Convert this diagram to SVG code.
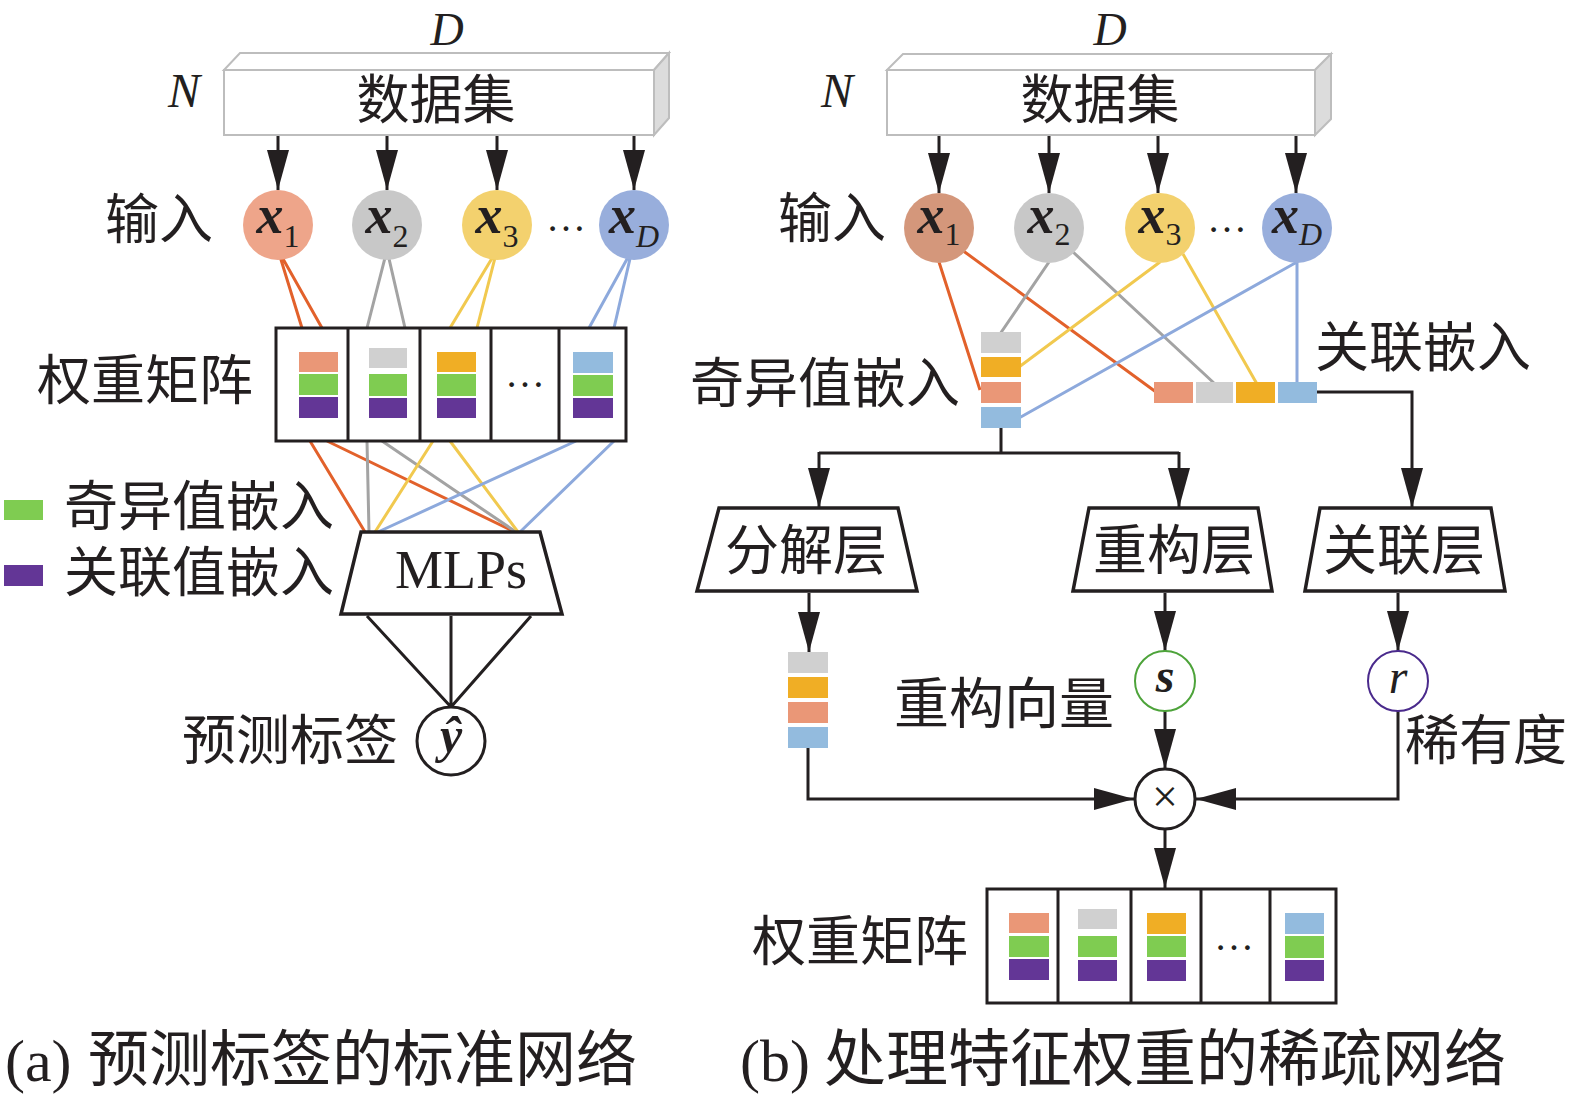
<svg xmlns="http://www.w3.org/2000/svg" width="1575" height="1101" viewBox="0 0 1575 1101">
<defs>
<marker id="ah" viewBox="0 0 40 22" refX="40" refY="11" markerWidth="40" markerHeight="22" markerUnits="userSpaceOnUse" orient="auto"><path d="M0,0 L40,11 L0,22 z" fill="#231f20"/></marker>
</defs>
<style>
.cjk{font-family:"Noto Sans CJK SC","Noto Sans",sans-serif;fill:#231f20}
.lat{font-family:"Liberation Serif","Noto Sans CJK SC",serif;fill:#231f20}
.it{font-style:italic}
.bi{font-style:italic;font-weight:bold}
.k{stroke:#231f20;stroke-width:3;fill:none}
.ka{stroke:#231f20;stroke-width:3;fill:none;marker-end:url(#ah)}
.o{stroke:#e2612b;stroke-width:3;fill:none}
.g{stroke:#a3a3a3;stroke-width:3;fill:none}
.y{stroke:#f1c94f;stroke-width:3;fill:none}
.b{stroke:#8da9dc;stroke-width:3;fill:none}
.ds{fill:#fff;stroke:#bdbdbd;stroke-width:2}
.dss{fill:#dcdcdc;stroke:#bdbdbd;stroke-width:2}
.mat{fill:#fff;stroke:#231f20;stroke-width:3}
.trap{fill:#fff;stroke:#231f20;stroke-width:3.5}
.cs{fill:#ea9777}.cg{fill:#d0d0d0}.co{fill:#f0ae25}.cb{fill:#93bbde}.cn{fill:#7fcc51}.cp{fill:#633696}
</style>

<g id="connectors">
<line class="ka" x1="278" y1="135" x2="278" y2="190"/>
<line class="ka" x1="387" y1="135" x2="387" y2="190"/>
<line class="ka" x1="497" y1="135" x2="497" y2="190"/>
<line class="ka" x1="634" y1="135" x2="634" y2="190"/>
<path class="o" d="M278,250 L302,328 M278,250 L322,328"/>
<path class="g" d="M387,250 L367,328 M387,250 L405,328"/>
<path class="y" d="M497,250 L450,328 M497,250 L477,328"/>
<path class="b" d="M632,250 L589,328 M632,250 L614,328"/>
<path class="o" d="M310,441 L365,532 M327,441 L515,532"/>
<path class="g" d="M367,441 L369,532 M382,441 L516,532"/>
<path class="y" d="M433,441 L375,532 M450,441 L518,532"/>
<path class="b" d="M576,441 L378,532 M614,441 L520,532"/>
<path class="k" d="M367,616 L451,707 M451,616 V707 M531,616 L451,707"/>
<line class="ka" x1="939" y1="135" x2="939" y2="193"/>
<line class="ka" x1="1049" y1="135" x2="1049" y2="193"/>
<line class="ka" x1="1158" y1="135" x2="1158" y2="193"/>
<line class="ka" x1="1296" y1="135" x2="1296" y2="193"/>
<path class="o" d="M939,262 L980,390 M962,250 L1156,392"/>
<path class="g" d="M1049,262 L1000,334 M1073,252 L1215,384"/>
<path class="y" d="M1160,262 L1019,367 M1183,254 L1257,384"/>
<path class="b" d="M1297,262 L1019,418 M1297,262 L1297,384"/>
<path class="k" d="M1001,428 V453 M819,453 H1179"/>
<path class="ka" d="M819,452 V508"/>
<path class="ka" d="M1179,452 V508"/>
<path class="ka" d="M1317,392 H1412 V508"/>
<path class="ka" d="M809,593 V652"/>
<path class="ka" d="M1165,593 V651"/>
<path class="ka" d="M1398,593 V651"/>
<path class="ka" d="M1165,711 V769"/>
<path class="ka" d="M808,748 V799 H1134"/>
<path class="ka" d="M1398,711 V799 H1196"/>
<path class="ka" d="M1165,829 V888"/>
</g>

<g id="dataset-a">
<polygon class="ds" points="224,70 240,53 669,53 654,70"/>
<polygon class="dss" points="654,70 669,53 669,118 654,135"/>
<rect class="ds" x="224" y="70" width="430" height="65"/>
<text class="cjk" x="436" y="119" font-size="53" text-anchor="middle">数据集</text>
<text class="lat it" x="447" y="45" font-size="46" text-anchor="middle">D</text>
<text class="lat it" x="184" y="107" font-size="48" text-anchor="middle">N</text>
</g>

<g id="inputs-a">
<text class="cjk" x="105" y="239" font-size="54">输入</text>
<circle cx="278" cy="225" r="35" fill="#eea58a"/>
<text class="lat" x="278" y="233" text-anchor="middle"><tspan class="bi" font-size="54">x</tspan><tspan font-size="32" dy="14">1</tspan></text>
<circle cx="387" cy="225" r="35" fill="#c8c8c8"/>
<text class="lat" x="387" y="233" text-anchor="middle"><tspan class="bi" font-size="54">x</tspan><tspan font-size="32" dy="14">2</tspan></text>
<circle cx="497" cy="225" r="35" fill="#f3d16e"/>
<text class="lat" x="497" y="233" text-anchor="middle"><tspan class="bi" font-size="54">x</tspan><tspan font-size="32" dy="14">3</tspan></text>
<text class="lat" x="566" y="231" font-size="40" text-anchor="middle">…</text>
<circle cx="634" cy="225" r="35" fill="#98aedc"/>
<text class="lat" x="634" y="233" text-anchor="middle"><tspan class="bi" font-size="54">x</tspan><tspan class="it" font-size="32" dy="14">D</tspan></text>
</g>

<g id="matrix-a">
<text class="cjk" x="37" y="400" font-size="54">权重矩阵</text>
<rect class="mat" x="276" y="328" width="350" height="113"/>
<path class="k" d="M348,328 V441 M420,328 V441 M491,328 V441 M559,328 V441"/>
<rect class="cs" x="299" y="352" width="39" height="20"/><rect class="cn" x="299" y="374" width="39" height="21"/><rect class="cp" x="299" y="397" width="39" height="21"/>
<rect class="cg" x="369" y="348" width="38" height="20"/><rect class="cn" x="369" y="374" width="38" height="22"/><rect class="cp" x="369" y="398" width="38" height="20"/>
<rect class="co" x="437" y="352" width="39" height="20"/><rect class="cn" x="437" y="374" width="39" height="22"/><rect class="cp" x="437" y="398" width="39" height="20"/>
<text class="lat" x="525" y="387" font-size="40" text-anchor="middle">…</text>
<rect class="cb" x="573" y="352" width="40" height="21"/><rect class="cn" x="573" y="375" width="40" height="21"/><rect class="cp" x="573" y="398" width="40" height="20"/>
</g>

<g id="legend">
<rect class="cn" x="4" y="500" width="39" height="20"/>
<text class="cjk" x="64" y="526" font-size="54">奇异值嵌入</text>
<rect class="cp" x="4" y="565" width="39" height="21"/>
<text class="cjk" x="64" y="592" font-size="54">关联值嵌入</text>
</g>

<g id="mlps">
<polygon class="trap" points="361,532 540,532 562,614 341,614"/>
<text class="lat" x="395" y="588" font-size="54">MLPs</text>
</g>

<g id="yhat">
<circle cx="451" cy="741" r="34" fill="#fff" stroke="#231f20" stroke-width="3"/>
<text class="lat bi" x="451" y="752" font-size="50" text-anchor="middle">ŷ</text>
<text class="cjk" x="182" y="760" font-size="54">预测标签</text>
</g>

<g id="dataset-b">
<polygon class="ds" points="887,70 903,54 1331,54 1315,70"/>
<polygon class="dss" points="1315,70 1331,54 1331,119 1315,135"/>
<rect class="ds" x="887" y="70" width="428" height="65"/>
<text class="cjk" x="1100" y="119" font-size="53" text-anchor="middle">数据集</text>
<text class="lat it" x="1110" y="45" font-size="46" text-anchor="middle">D</text>
<text class="lat it" x="837" y="107" font-size="48" text-anchor="middle">N</text>
</g>

<g id="inputs-b">
<text class="cjk" x="778" y="238" font-size="54">输入</text>
<circle cx="939" cy="228" r="35" fill="#d4977b"/>
<text class="lat" x="939" y="233" text-anchor="middle"><tspan class="bi" font-size="54">x</tspan><tspan font-size="32" dy="12">1</tspan></text>
<circle cx="1049" cy="228" r="35" fill="#c8c8c8"/>
<text class="lat" x="1049" y="233" text-anchor="middle"><tspan class="bi" font-size="54">x</tspan><tspan font-size="32" dy="12">2</tspan></text>
<circle cx="1160" cy="228" r="35" fill="#f3d16e"/>
<text class="lat" x="1160" y="233" text-anchor="middle"><tspan class="bi" font-size="54">x</tspan><tspan font-size="32" dy="12">3</tspan></text>
<text class="lat" x="1227" y="232" font-size="40" text-anchor="middle">…</text>
<circle cx="1297" cy="228" r="35" fill="#98aedc"/>
<text class="lat" x="1297" y="233" text-anchor="middle"><tspan class="bi" font-size="54">x</tspan><tspan class="it" font-size="32" dy="12">D</tspan></text>
</g>

<g id="singular-embedding">
<rect class="cg" x="981" y="332" width="40" height="21"/>
<rect class="co" x="981" y="357" width="40" height="20"/>
<rect class="cs" x="981" y="382" width="40" height="21"/>
<rect class="cb" x="981" y="407" width="40" height="21"/>
<text class="cjk" x="690" y="403" font-size="54">奇异值嵌入</text>
</g>

<g id="assoc-embedding">
<rect class="cs" x="1154" y="382" width="39" height="21"/>
<rect class="cg" x="1196" y="382" width="37" height="21"/>
<rect class="co" x="1236" y="382" width="39" height="21"/>
<rect class="cb" x="1278" y="382" width="39" height="21"/>
<text class="cjk" x="1315" y="367" font-size="54">关联嵌入</text>
</g>

<g id="decomp-layer">
<polygon class="trap" points="719,508 898,508 917,591 697,591"/>
<text class="cjk" x="806" y="570" font-size="54" text-anchor="middle">分解层</text>
</g>
<g id="recon-layer">
<polygon class="trap" points="1089,508 1258,508 1272,591 1073,591"/>
<text class="cjk" x="1174" y="570" font-size="54" text-anchor="middle">重构层</text>
</g>
<g id="assoc-layer">
<polygon class="trap" points="1320,508 1491,508 1505,591 1305,591"/>
<text class="cjk" x="1404" y="570" font-size="54" text-anchor="middle">关联层</text>
</g>

<g id="decomp-vector">
<rect class="cg" x="788" y="652" width="40" height="21"/>
<rect class="co" x="788" y="677" width="40" height="21"/>
<rect class="cs" x="788" y="702" width="40" height="21"/>
<rect class="cb" x="788" y="727" width="40" height="21"/>
</g>

<g id="s-node">
<circle cx="1165" cy="681" r="30" fill="#fff" stroke="#4da33a" stroke-width="2"/>
<text class="lat bi" x="1165" y="692" font-size="48" text-anchor="middle">s</text>
<text class="cjk" x="894" y="723" font-size="55">重构向量</text>
</g>

<g id="r-node">
<circle cx="1398" cy="681" r="30" fill="#fff" stroke="#4a2a8c" stroke-width="2"/>
<text class="lat it" x="1398" y="693" font-size="48" text-anchor="middle">r</text>
<text class="cjk" x="1405" y="760" font-size="54">稀有度</text>
</g>

<g id="multiply">
<circle cx="1165" cy="799" r="30" fill="#fff" stroke="#231f20" stroke-width="3"/>
<text class="lat" x="1165" y="812" font-size="46" text-anchor="middle">×</text>
</g>

<g id="matrix-b">
<text class="cjk" x="752" y="961" font-size="54">权重矩阵</text>
<rect class="mat" x="987" y="889" width="349" height="114"/>
<path class="k" d="M1058,889 V1003 M1131,889 V1003 M1201,889 V1003 M1270,889 V1003"/>
<rect class="cs" x="1009" y="913" width="40" height="20"/><rect class="cn" x="1009" y="936" width="40" height="21"/><rect class="cp" x="1009" y="959" width="40" height="21"/>
<rect class="cg" x="1078" y="909" width="39" height="20"/><rect class="cn" x="1078" y="936" width="39" height="21"/><rect class="cp" x="1078" y="960" width="39" height="21"/>
<rect class="co" x="1147" y="913" width="39" height="21"/><rect class="cn" x="1147" y="936" width="39" height="21"/><rect class="cp" x="1147" y="960" width="39" height="21"/>
<text class="lat" x="1234" y="950" font-size="40" text-anchor="middle">…</text>
<rect class="cb" x="1285" y="913" width="39" height="21"/><rect class="cn" x="1285" y="936" width="39" height="22"/><rect class="cp" x="1285" y="960" width="39" height="21"/>
</g>

<g id="captions">
<text x="5" y="1081"><tspan class="lat" font-size="60">(a)</tspan><tspan class="cjk" x="88" font-size="61">预测标签的标准网络</tspan></text>
<text x="740" y="1081"><tspan class="lat" font-size="60">(b)</tspan><tspan class="cjk" x="824" font-size="62">处理特征权重的稀疏网络</tspan></text>
</g>
</svg>
